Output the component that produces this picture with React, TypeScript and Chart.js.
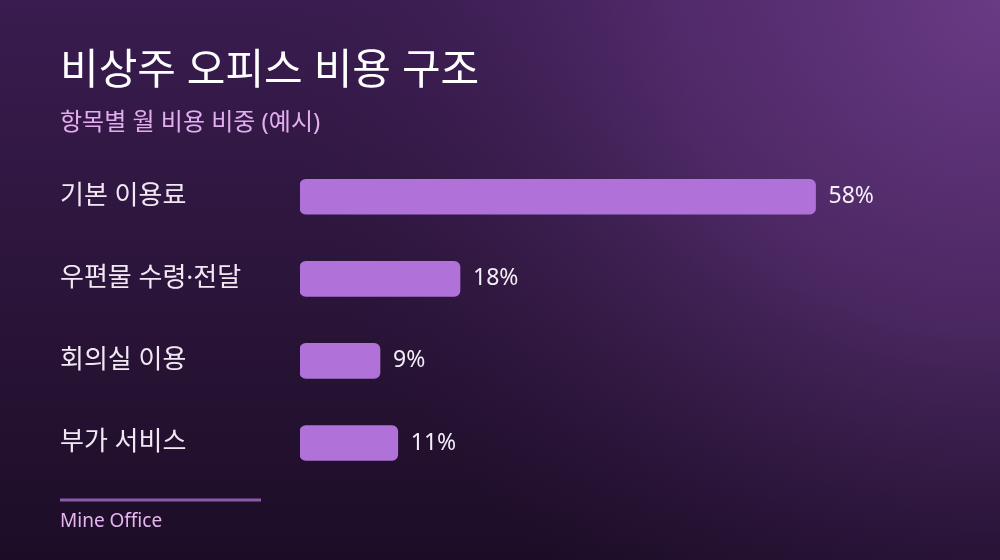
import { useEffect, useRef } from "react";
import { Chart, registerables } from "chart.js";

Chart.register(...registerables);

const categories = ["기본 이용료", "우편물 수령·전달", "회의실 이용", "부가 서비스"];
const shares = [58, 18, 9, 11];
const titleText = "비상주 오피스 비용 구조";
const subtitleText = "항목별 월 비용 비중 (예시)";
const footerText = "Mine Office";

// Latin face first so the middle dot and digits stay narrow; Hangul falls back to CJK
const FONT = "'Noto Sans', 'Noto Sans CJK KR', sans-serif";

const backdrop = {
  id: "backdrop",
  beforeDraw(chart: Chart) {
    const { ctx, width, height } = chart;
    ctx.save();
    const lin = ctx.createLinearGradient(0, 0, 0, height);
    lin.addColorStop(0, "#3a1c50");
    lin.addColorStop(0.55, "#2a1438");
    lin.addColorStop(1, "#1c0d27");
    ctx.fillStyle = lin;
    ctx.fillRect(0, 0, width, height);
    const rad = ctx.createRadialGradient(width, 0, 0, width, 0, 720);
    rad.addColorStop(0, "rgba(108,60,136,0.95)");
    rad.addColorStop(0.45, "rgba(96,52,124,0.6)");
    rad.addColorStop(1, "rgba(60,30,80,0)");
    ctx.fillStyle = rad;
    ctx.fillRect(0, 0, width, height);
    ctx.restore();
  },
};

const valueLabels = {
  id: "valueLabels",
  afterDatasetsDraw(chart: Chart) {
    const { ctx } = chart;
    const meta = chart.getDatasetMeta(0);
    ctx.save();
    ctx.font = `23px ${FONT}`;
    ctx.fillStyle = "#f4eef7";
    ctx.textBaseline = "middle";
    meta.data.forEach((bar: any, i: number) => {
      ctx.fillText(`${shares[i]}%`, bar.x + 13, bar.y);
    });
    ctx.restore();
  },
};

const footer = {
  id: "footer",
  afterDraw(chart: Chart) {
    const { ctx } = chart;
    ctx.save();
    ctx.strokeStyle = "#8b5aa9";
    ctx.lineWidth = 3;
    ctx.beginPath();
    ctx.moveTo(60, 500);
    ctx.lineTo(261, 500);
    ctx.stroke();
    ctx.font = `19px ${FONT}`;
    ctx.fillStyle = "#e6b6f0";
    ctx.textBaseline = "middle";
    ctx.fillText(footerText, 60, 522);
    ctx.restore();
  },
};

export default function App() {
  const canvasRef = useRef<HTMLCanvasElement>(null);

  useEffect(() => {
    if (!canvasRef.current) return;
    const chart = new Chart(canvasRef.current, {
      type: "bar",
      data: {
        labels: categories,
        datasets: [{
          data: shares,
          backgroundColor: "#b071d9",
          borderRadius: 6,
          borderSkipped: false,
          barThickness: 35,
        }],
      },
      options: {
        indexAxis: "y",
        animation: false,
        responsive: true,
        maintainAspectRatio: false,
        layout: { padding: { top: 30, left: 60, right: 60, bottom: 76 } },
        plugins: {
          legend: { display: false },
          tooltip: { enabled: false },
          title: {
            display: true,
            text: titleText,
            align: "start",
            color: "#ffffff",
            font: { family: FONT, size: 42, weight: "normal", lineHeight: 1.2 },
            padding: { top: 17, bottom: 11 },
          },
          subtitle: {
            display: true,
            text: subtitleText,
            align: "start",
            color: "#e2aef0",
            font: { family: FONT, size: 24, weight: "normal", lineHeight: 1.2 },
            padding: { top: 0, bottom: 18.5 },
          },
        },
        scales: {
          x: {
            display: false,
            min: 0,
            max: 72,
          },
          y: {
            grid: { display: false },
            border: { display: false },
            afterFit: (axis: any) => { axis.width = 240; },
            ticks: {
              crossAlign: "far",
              color: "#f1e8f4",
              font: { family: FONT, size: 26 },
            },
          },
        },
      },
      plugins: [backdrop, valueLabels, footer],
    });
    return () => { chart.destroy(); };
  }, []);

  return (
    <div style={{ position: "fixed", left: 0, top: 0, width: 1000, height: 560 }}>
      <canvas ref={canvasRef} />
    </div>
  );
}
